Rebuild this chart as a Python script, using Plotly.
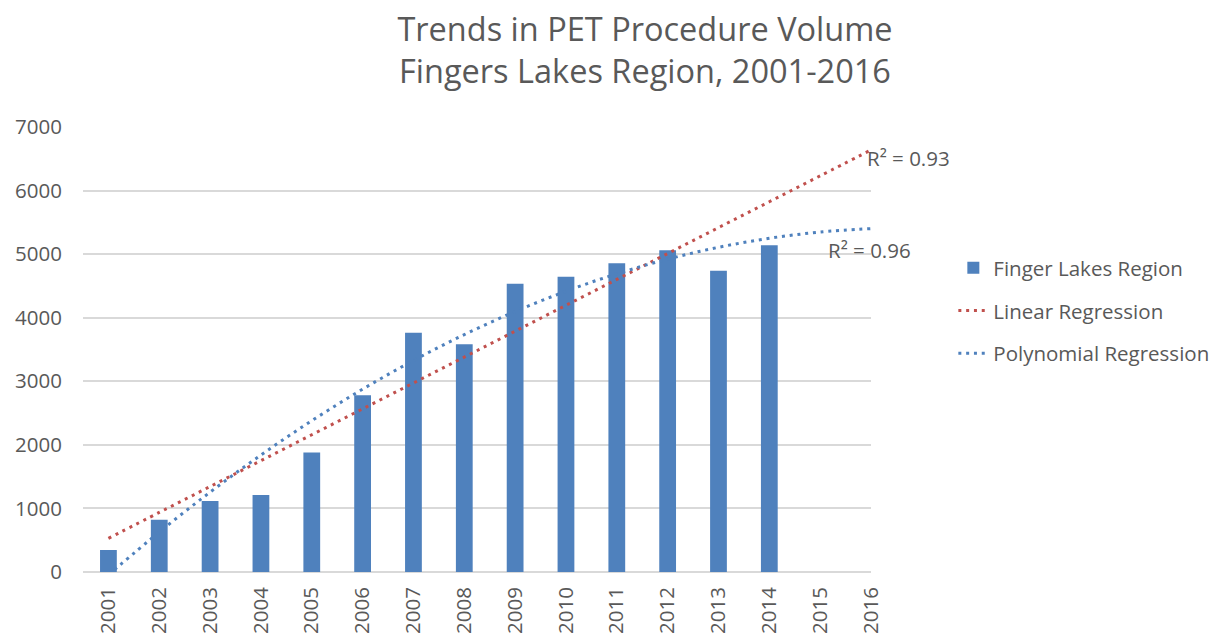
import numpy as np
import plotly.graph_objects as go

years = [str(y) for y in range(2001, 2017)]
bar_years = years[:14]
volumes = [346, 821, 1118, 1210, 1880, 2782, 3765, 3582, 4533, 4646, 4857, 5062, 4738, 5138]
y_ticks = [0, 1000, 2000, 3000, 4000, 5000, 6000, 7000]
r2_linear = "R² = 0.93"
r2_poly = "R² = 0.96"

# trendlines fitted to the data (as Excel does)
xi = np.arange(1, 15)
xall = np.arange(1, 17)
lin = np.polyval(np.polyfit(xi, volumes, 1), xall)
poly = np.polyval(np.polyfit(xi, volumes, 2), xall)

BLUE = "#4F81BD"
RED = "#C0504D"
GRAY = "#595959"
FONT = "Open Sans"
FS = 20.5

fig = go.Figure()
fig.add_trace(go.Bar(x=bar_years, y=volumes, name="Finger Lakes Region",
                     marker=dict(color=BLUE, line=dict(width=0)),
                     width=0.33, legendgroup="a"))
fig.add_trace(go.Scatter(x=years, y=lin, mode="lines", name="Linear Regression",
                         line=dict(color=RED, width=3, dash="3px,4.8px", shape="spline"),
                         legendgroup="b"))
fig.add_trace(go.Scatter(x=years, y=poly, mode="lines", name="Polynomial Regression",
                         line=dict(color=BLUE, width=3, dash="3px,4.8px", shape="spline"),
                         legendgroup="c"))

fig.update_layout(
    width=1226, height=638,
    margin=dict(l=83, r=349, t=127, b=66),
    paper_bgcolor="white", plot_bgcolor="white",
    font=dict(family=FONT, size=FS, color=GRAY),
    title=dict(text="Trends in PET Procedure Volume<br>Fingers Lakes Region, 2001-2016",
               font=dict(family=FONT, size=32.5, color=GRAY),
               x=645 / 1226, xref="container", xanchor="center",
               y=1 - 41 / 638, yref="container", yanchor="middle"),
    showlegend=True,
    legend=dict(x=1.1045, y=0.728, xanchor="left", yanchor="top",
                font=dict(family=FONT, size=FS, color=GRAY),
                traceorder="grouped", tracegroupgap=13,
                bgcolor="rgba(0,0,0,0)"),
    xaxis=dict(type="category", categoryorder="array", categoryarray=years,
               tickangle=-90, showgrid=False, showline=False, ticks="",
               automargin=False,
               tickfont=dict(size=FS, color=GRAY), ticklabelstandoff=10),
    yaxis=dict(range=[0, 7000], tickvals=y_ticks, showgrid=True,
               gridcolor="#D9D9D9", gridwidth=1.5, zeroline=True,
               zerolinecolor="#D9D9D9", zerolinewidth=1.5, showline=False,
               automargin=False,
               ticks="", tickfont=dict(size=FS, color=GRAY), ticklabelstandoff=20),
    annotations=[
        dict(text=r2_linear, xref="paper", yref="paper", x=0.993, y=0.93,
             xanchor="left", yanchor="middle", showarrow=False,
             font=dict(family=FONT, size=FS, color=GRAY)),
        dict(text=r2_poly, xref="paper", yref="paper", x=0.943, y=0.724,
             xanchor="left", yanchor="middle", showarrow=False,
             font=dict(family=FONT, size=FS, color=GRAY)),
    ],
)

fig.write_html("out.html", config={"displayModeBar": False},
               post_script="document.body.style.margin='0';")
